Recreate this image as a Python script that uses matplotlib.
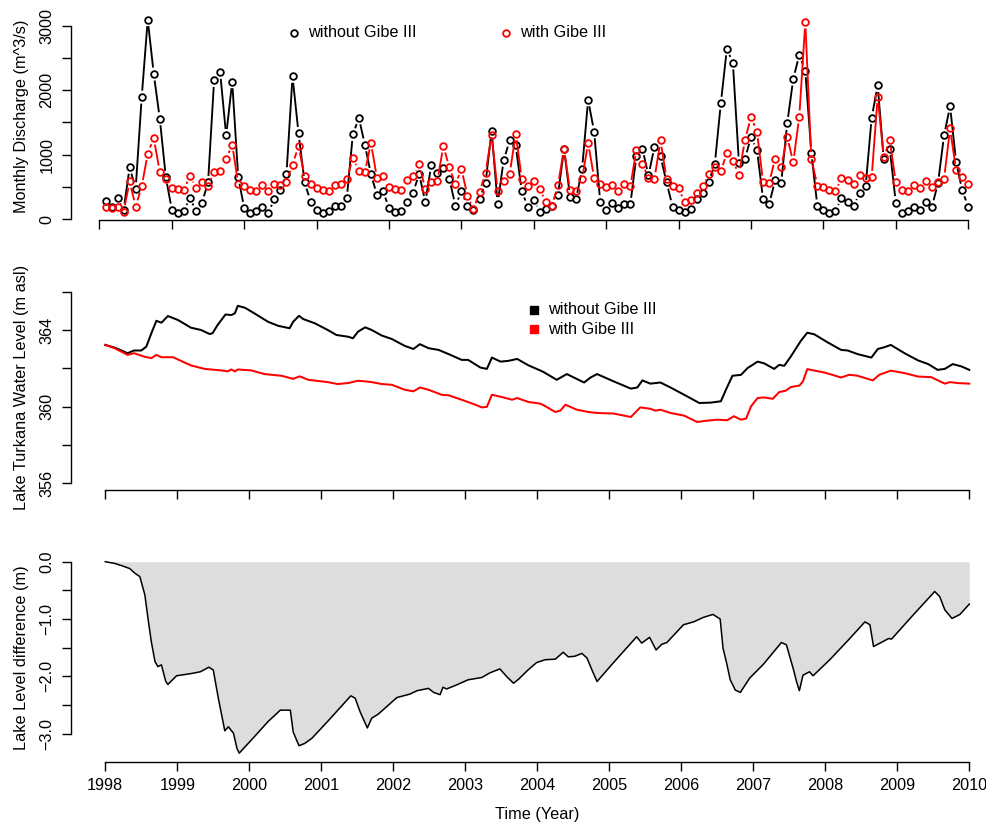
import numpy as np
import matplotlib
matplotlib.use("Agg")
import matplotlib.pyplot as plt
from matplotlib.collections import LineCollection
from matplotlib.lines import Line2D

plt.rcParams['font.family'] = ['Liberation Sans', 'DejaVu Sans']

# monthly discharge, Jan 1998 .. Dec 2009 (m^3/s)
q_without = [281, 190, 333, 141, 802, 469, 1891, 3094, 2250, 1557, 646, 141,
             99, 125, 333, 120, 255, 568, 2151, 2276, 1297, 2130, 646, 167,
             99, 125, 193, 99, 312, 453, 703, 2214, 1328, 568, 271, 141,
             99, 125, 203, 203, 323, 1313, 1568, 1151, 693, 375, 427, 172,
             104, 125, 260, 411, 703, 260, 833, 714, 792, 620, 208, 427,
             208, 141, 318, 562, 1365, 240, 911, 1219, 1141, 427, 193, 297,
             109, 156, 203, 365, 1089, 349, 307, 776, 1849, 1354, 271, 141,
             255, 177, 229, 229, 974, 1089, 677, 1120, 974, 568, 193, 135,
             104, 151, 307, 401, 573, 854, 1797, 2641, 2422, 870, 938, 1266,
             1068, 307, 229, 599, 557, 1484, 2172, 2547, 2302, 1026, 203, 141,
             99, 125, 323, 260, 203, 401, 505, 1573, 2073, 938, 1094, 255,
             99, 125, 193, 141, 271, 193, 557, 1297, 1750, 885, 448, 193]
q_with = [193, 172, 193, 115, 583, 193, 505, 1016, 1255, 729, 625, 479,
          464, 453, 672, 479, 573, 516, 729, 750, 932, 1156, 542, 516,
          453, 427, 521, 438, 542, 521, 573, 844, 1130, 661, 542, 479,
          453, 427, 531, 542, 620, 948, 745, 724, 1182, 635, 672, 490,
          464, 453, 609, 661, 849, 469, 573, 589, 1130, 802, 536, 776,
          359, 151, 417, 714, 1307, 438, 589, 703, 1323, 625, 516, 589,
          469, 260, 203, 521, 1094, 443, 427, 620, 1182, 635, 542, 490,
          521, 438, 547, 505, 1078, 859, 635, 625, 1219, 625, 505, 474,
          260, 297, 401, 505, 703, 807, 740, 1026, 906, 688, 1224, 1583,
          1354, 573, 557, 938, 807, 1276, 880, 1583, 3057, 938, 516, 490,
          453, 427, 635, 609, 542, 677, 635, 646, 1901, 958, 1224, 568,
          448, 427, 531, 479, 594, 495, 568, 620, 1406, 755, 646, 542]

# lake level without Gibe III (m asl)
lvl_without_t = [1998.0, 1998.13, 1998.31, 1998.40, 1998.50, 1998.57, 1998.64, 1998.71, 1998.78, 1998.87,
                 1999.01, 1999.19, 1999.33, 1999.45, 1999.49, 1999.56, 1999.67, 1999.75, 1999.80, 1999.84,
                 1999.94, 2000.07, 2000.26, 2000.40, 2000.56, 2000.61, 2000.69, 2000.75, 2000.91, 2001.09,
                 2001.21, 2001.37, 2001.44, 2001.51, 2001.61, 2001.70, 2001.84, 2001.98, 2002.16, 2002.28,
                 2002.37, 2002.49, 2002.63, 2002.77, 2002.95, 2003.04, 2003.21, 2003.30, 2003.37, 2003.49,
                 2003.60, 2003.72, 2003.88, 2004.04, 2004.09, 2004.27, 2004.41, 2004.65, 2004.74, 2004.83,
                 2005.06, 2005.30, 2005.39, 2005.46, 2005.57, 2005.71, 2005.85, 2006.04, 2006.25, 2006.41,
                 2006.55, 2006.62, 2006.71, 2006.83, 2006.92, 2006.99, 2007.06, 2007.15, 2007.29, 2007.36,
                 2007.43, 2007.52, 2007.66, 2007.75, 2007.85, 2008.03, 2008.22, 2008.31, 2008.45, 2008.64,
                 2008.73, 2008.82, 2008.91, 2009.10, 2009.29, 2009.43, 2009.56, 2009.66, 2009.77, 2009.89,
                 2010.0]
lvl_without = [363.22, 363.08, 362.79, 362.93, 362.93, 363.13, 363.83, 364.48, 364.38, 364.73,
               364.52, 364.12, 364.00, 363.79, 363.83, 364.26, 364.81, 364.78, 364.87, 365.26,
               365.16, 364.87, 364.43, 364.22, 364.09, 364.43, 364.74, 364.57, 364.35, 364.00,
               363.74, 363.65, 363.57, 363.91, 364.14, 364.00, 363.71, 363.53, 363.17, 363.01,
               363.26, 363.05, 362.96, 362.74, 362.44, 362.44, 362.04, 361.97, 362.56, 362.35,
               362.39, 362.49, 362.15, 361.89, 361.80, 361.40, 361.70, 361.26, 361.52, 361.70,
               361.32, 360.94, 361.00, 361.37, 361.20, 361.26, 361.00, 360.62, 360.19, 360.21,
               360.28, 360.88, 361.61, 361.66, 362.01, 362.18, 362.35, 362.26, 361.97, 362.18,
               362.13, 362.61, 363.43, 363.86, 363.77, 363.36, 362.96, 362.93, 362.74, 362.56,
               363.01, 363.10, 363.22, 362.79, 362.41, 362.22, 361.92, 361.97, 362.22, 362.10,
               361.92]

# lake level with Gibe III (m asl)
lvl_with_t = [1998.0, 1998.13, 1998.31, 1998.40, 1998.54, 1998.64, 1998.71, 1998.78, 1998.94, 1999.05,
              1999.19, 1999.38, 1999.61, 1999.70, 1999.75, 1999.80, 1999.84, 2000.03, 2000.21, 2000.45,
              2000.61, 2000.70, 2000.82, 2001.09, 2001.23, 2001.37, 2001.51, 2001.61, 2001.70, 2001.84,
              2001.98, 2002.16, 2002.28, 2002.37, 2002.49, 2002.67, 2002.77, 2002.95, 2003.14, 2003.23,
              2003.30, 2003.37, 2003.51, 2003.65, 2003.72, 2003.88, 2004.04, 2004.09, 2004.25, 2004.32,
              2004.39, 2004.55, 2004.71, 2004.83, 2005.06, 2005.30, 2005.43, 2005.57, 2005.64, 2005.71,
              2005.85, 2006.04, 2006.22, 2006.36, 2006.50, 2006.64, 2006.73, 2006.83, 2006.90, 2006.97,
              2007.06, 2007.15, 2007.27, 2007.36, 2007.45, 2007.52, 2007.64, 2007.69, 2007.75, 2007.85,
              2007.99, 2008.22, 2008.33, 2008.44, 2008.66, 2008.75, 2008.91, 2009.10, 2009.29, 2009.47,
              2009.66, 2009.73, 2009.84, 2010.0]
lvl_with = [363.22, 363.05, 362.70, 362.79, 362.61, 362.53, 362.70, 362.58, 362.58, 362.39,
            362.15, 361.97, 361.89, 361.84, 361.94, 361.84, 361.94, 361.89, 361.70, 361.61,
            361.45, 361.58, 361.40, 361.28, 361.18, 361.23, 361.35, 361.32, 361.28, 361.18,
            361.14, 360.88, 360.80, 361.00, 360.88, 360.62, 360.59, 360.36, 360.10, 359.96,
            359.99, 360.62, 360.50, 360.36, 360.45, 360.24, 360.16, 360.07, 359.72, 359.79,
            360.10, 359.84, 359.72, 359.67, 359.64, 359.46, 359.96, 359.89, 359.79, 359.84,
            359.67, 359.53, 359.20, 359.27, 359.32, 359.29, 359.50, 359.32, 359.38, 360.02,
            360.45, 360.48, 360.41, 360.76, 360.83, 361.02, 361.10, 361.32, 361.96, 361.88,
            361.78, 361.52, 361.66, 361.62, 361.37, 361.66, 361.88, 361.75, 361.57, 361.54,
            361.20, 361.28, 361.23, 361.20]

# lake level difference (m)
diff_t = [1998.0, 1998.13, 1998.23, 1998.34, 1998.41, 1998.48, 1998.55, 1998.60, 1998.64, 1998.69,
          1998.73, 1998.78, 1998.84, 1998.87, 1998.99, 1999.20, 1999.32, 1999.44, 1999.50, 1999.57,
          1999.66, 1999.71, 1999.78, 1999.83, 1999.86, 2000.08, 2000.26, 2000.43, 2000.57, 2000.61,
          2000.69, 2000.77, 2000.87, 2001.10, 2001.41, 2001.47, 2001.54, 2001.64, 2001.70, 2001.79,
          2002.05, 2002.23, 2002.33, 2002.49, 2002.56, 2002.65, 2002.69, 2002.74, 2002.86, 2003.04,
          2003.23, 2003.34, 2003.48, 2003.58, 2003.67, 2003.74, 2003.87, 2003.99, 2004.11, 2004.25,
          2004.36, 2004.43, 2004.52, 2004.62, 2004.69, 2004.76, 2004.83, 2005.08, 2005.38, 2005.45,
          2005.56, 2005.65, 2005.73, 2005.80, 2006.03, 2006.17, 2006.31, 2006.44, 2006.54, 2006.58,
          2006.63, 2006.68, 2006.75, 2006.82, 2006.95, 2007.14, 2007.39, 2007.46, 2007.56, 2007.60,
          2007.64, 2007.69, 2007.78, 2007.83, 2008.07, 2008.34, 2008.55, 2008.62, 2008.67, 2008.76,
          2008.88, 2008.92, 2009.22, 2009.52, 2009.59, 2009.66, 2009.76, 2009.87, 2010.0]
diff_val = [0.00, -0.03, -0.07, -0.12, -0.20, -0.26, -0.58, -1.05, -1.40, -1.74,
            -1.83, -1.80, -2.09, -2.14, -1.99, -1.95, -1.92, -1.84, -1.89, -2.38,
            -2.95, -2.88, -2.99, -3.26, -3.34, -3.04, -2.79, -2.59, -2.59, -2.97,
            -3.21, -3.17, -3.08, -2.77, -2.34, -2.38, -2.62, -2.90, -2.73, -2.66,
            -2.37, -2.31, -2.25, -2.21, -2.28, -2.32, -2.19, -2.22, -2.16, -2.06,
            -2.02, -1.94, -1.87, -2.01, -2.12, -2.05, -1.89, -1.76, -1.71, -1.70,
            -1.58, -1.66, -1.65, -1.60, -1.68, -1.89, -2.09, -1.73, -1.31, -1.42,
            -1.32, -1.54, -1.44, -1.41, -1.10, -1.05, -0.97, -0.92, -1.00, -1.51,
            -1.77, -2.06, -2.24, -2.28, -2.03, -1.79, -1.41, -1.45, -1.89, -2.09,
            -2.25, -1.98, -1.92, -1.99, -1.70, -1.34, -1.05, -1.10, -1.48, -1.42,
            -1.34, -1.35, -0.93, -0.52, -0.61, -0.84, -0.99, -0.92, -0.74]

W, H = 987, 826
fig = plt.figure(figsize=(W / 100, H / 100), dpi=100)

MS, MEW, LW = 4.8, 1.3, 1.35


def box(l, t, r, b):
    return [l / W, 1 - b / H, (r - l) / W, (b - t) / H]


def r_style(ax, xb, yb):
    for s in ['top', 'right']:
        ax.spines[s].set_visible(False)
    ax.spines['left'].set_bounds(*yb)
    ax.spines['bottom'].set_bounds(*xb)
    for s in ['left', 'bottom']:
        ax.spines[s].set_linewidth(1.0)
    ax.tick_params(length=6.5, width=1.0, labelsize=11.7)
    ax.tick_params(axis='y', pad=10.8)
    for lab in ax.get_yticklabels():
        lab.set_rotation(90)
        lab.set_ha('center')
        lab.set_va('center')


def gapped(ax, x, y, color, gap=6.5):
    # R type="b": segments stop short of each point
    pts = ax.transData.transform(np.column_stack([x, y]))
    inv = ax.transData.inverted()
    segs = []
    for p, q in zip(pts[:-1], pts[1:]):
        d = q - p
        L = np.hypot(d[0], d[1])
        if L <= 2 * gap:
            continue
        u = d / L
        segs.append(inv.transform([p + u * gap, q - u * gap]))
    ax.add_collection(LineCollection(segs, colors=color, linewidths=LW))


# ---- top panel: discharge
ax1 = fig.add_axes(box(71, 12, 987, 220))
ax1.set_xlim(-4.72, 147.12)
ax1.set_ylim(-15.5, 3212.8)
months = np.arange(1, len(q_without) + 1)
gapped(ax1, months, q_without, 'black')
ax1.plot(months, q_without, 'o', ms=MS, mfc='none', mec='black', mew=MEW)
gapped(ax1, months, q_with, 'red')
ax1.plot(months, q_with, 'o', ms=MS, mfc='none', mec='red', mew=MEW)
ax1.set_xticks(np.arange(0, 145, 12))
ax1.set_xticklabels([])
ax1.set_yticks(np.arange(0, 3001, 500))
ax1.set_yticklabels(['0', '', '1000', '', '2000', '', '3000'])
r_style(ax1, (0, 144), (0, 3000))

# ---- middle panel: lake level
ax2 = fig.add_axes(box(71, 284, 987, 490))
ax2.set_xlim(1997.524, 2010.246)
ax2.set_ylim(355.65, 366.40)
ax2.plot(lvl_without_t, lvl_without, color='black', lw=1.45)
ax2.plot(lvl_with_t, lvl_with, color='red', lw=1.45)
ax2.set_xticks(np.arange(1998, 2011))
ax2.set_xticklabels([])
ax2.set_yticks(np.arange(356, 367, 2))
ax2.set_yticklabels(['356', '', '360', '', '364', ''])
r_style(ax2, (1998, 2010), (356, 366))

# ---- bottom panel: difference
ax3 = fig.add_axes(box(71, 554, 987, 762))
ax3.set_xlim(1997.524, 2010.246)
ax3.set_ylim(-3.494, 0.134)
ax3.fill_between(diff_t, diff_val, 0, color='#DDDDDD', lw=0)
ax3.plot(diff_t, diff_val, color='black', lw=1.1)
ax3.set_xticks(np.arange(1998, 2011))
ax3.set_xticklabels([str(y) for y in range(1998, 2011)])
ax3.set_yticks(np.arange(-3.0, 0.01, 0.5))
ax3.set_yticklabels(['\u22123.0', '', '\u22122.0', '', '\u22121.0', '', '0.0'])
r_style(ax3, (1998, 2010), (-3, 0))
ax3.tick_params(axis='x', pad=10.3)
for lab in ax3.get_xticklabels():
    lab.set_va('center')


def px(x, y):
    return x / W, 1 - y / H


# axis titles
fs = 11.7
fig.text(*px(22, 116), 'Monthly Discharge (m^3/s)', rotation=90, ha='center', va='center', fontsize=fs)
fig.text(*px(22, 387), 'Lake Turkana Water Level (m asl)', rotation=90, ha='center', va='center', fontsize=fs)
fig.text(*px(22, 658), 'Lake Level difference (m)', rotation=90, ha='center', va='center', fontsize=fs)
fig.text(*px(537, 815), 'Time (Year)', ha='center', va='center', fontsize=fs)

# legends
for (x, y, c, label) in [(294, 32.7, 'black', 'without Gibe III'), (506, 32.7, 'red', 'with Gibe III')]:
    fx, fy = px(x, y)
    fig.add_artist(Line2D([fx], [fy], marker='o', ms=MS, mfc='none', mec=c, mew=MEW,
                          transform=fig.transFigure))
    fig.text(*px(x + 14, y), label, ha='left', va='center', fontsize=fs)

for (y, c, label) in [(310, 'black', 'without Gibe III'), (329.3, 'red', 'with Gibe III')]:
    fx, fy = px(534, y)
    fig.add_artist(Line2D([fx], [fy], marker='s', ms=5.8, color=c, mec=c,
                          transform=fig.transFigure))
    fig.text(*px(548, y), label, ha='left', va='center', fontsize=fs)

fig.savefig('out.png', dpi=100)
